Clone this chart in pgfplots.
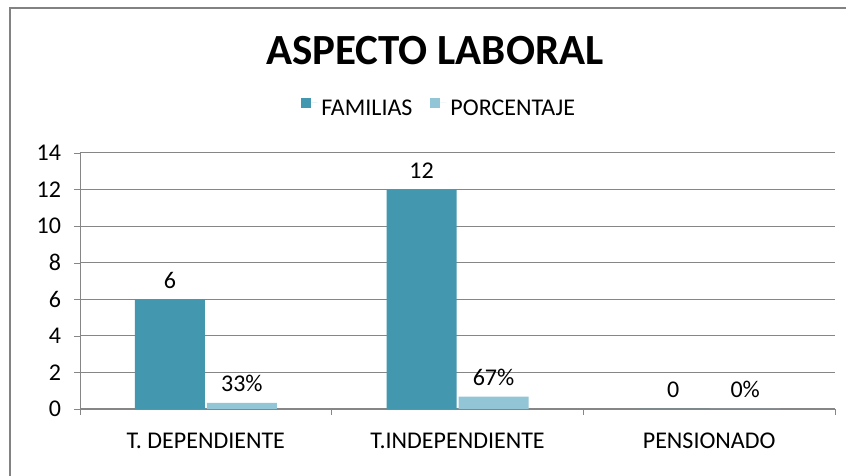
\documentclass[border=0pt]{standalone}
\usepackage{fontspec}
\setmainfont{Carlito}
\usepackage{pgfplots}
\pgfplotsset{compat=1.18}

\definecolor{familias}{RGB}{67,151,174}
\definecolor{porcentaje}{RGB}{146,197,214}
\definecolor{gridgray}{RGB}{134,134,134}
\definecolor{framegray}{RGB}{130,130,130}

\begin{document}
\begin{tikzpicture}
\path[use as bounding box] (-40pt,-33.5pt) rectangle (383pt,204.5pt);
\begin{axis}[
at={(0pt,0pt)}, anchor=south west,
scale only axis,
width=377.5pt, height=128pt,
ybar=1pt, bar width=35pt,
xmin=-0.5, xmax=2.5,
ymin=0, ymax=14,
ytick={0,2,...,14},
xtick={0,1,2},
xticklabels={T. DEPENDIENTE, T.INDEPENDIENTE, PENSIONADO},
minor xtick={-0.5,0.5,1.5,2.5},
major x tick style={draw=none},
minor x tick style={gridgray},
y tick style={gridgray},
tick align=outside,
major tick length=3pt, minor tick length=3pt,
axis x line*=bottom, axis y line*=left,
axis line style={gridgray, -},
ymajorgrids, y grid style={gridgray, line width=0.5pt},
font=\fontsize{12}{14}\selectfont,
/pgf/number format/assume math mode=true,
y tick label style={xshift=-3pt},
x tick label style={yshift=-5.5pt},
legend columns=2,
legend style={at={(0.477,1.172)}, anchor=center, draw=none, fill=none,
  /tikz/every even column/.style={column sep=7pt},
  font=\fontsize{12}{14}\selectfont},
legend image code/.code={\fill[#1] (0pt,0.5pt) rectangle (5pt,5.5pt); \path (0pt,3pt) -- (8pt,3pt);},
nodes near coords,
point meta=explicit symbolic,
every node near coord/.append style={font=\fontsize{12}{14}\selectfont, yshift=2pt, text=black},
clip=false,
]
\addplot[fill=familias, draw=none] coordinates {(0,6)[6] (1,12)[12] (2,0)[0]};
\addlegendentry{FAMILIAS}
\addplot[fill=porcentaje, draw=none] coordinates {(0,0.33)[33\%] (1,0.67)[67\%] (2,0)[0\%]};
\addlegendentry{PORCENTAJE}
\node[font=\fontsize{21.5}{24}\selectfont\bfseries] at (axis description cs:0.470,1.402) {ASPECTO LABORAL};
\end{axis}
\draw[framegray, line width=1.2pt] (-35pt,-40pt) -- (-35pt,200.5pt) -- (390pt,200.5pt);
\end{tikzpicture}
\end{document}
